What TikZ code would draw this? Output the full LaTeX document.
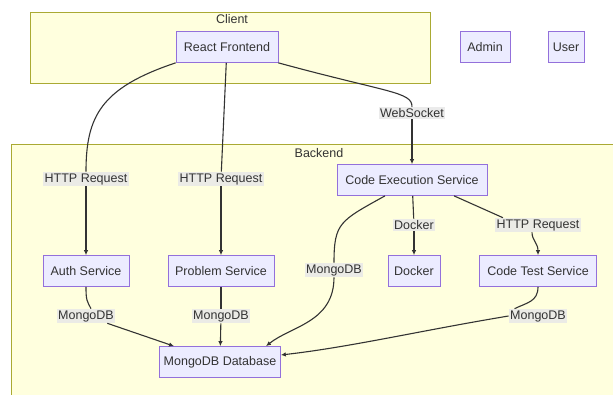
\documentclass[tikz,border=0pt]{standalone}
\usepackage{fontspec}
\setmainfont{Liberation Sans}
\usetikzlibrary{arrows.meta}
\definecolor{MClus}{HTML}{FFFFDE}
\definecolor{MClusLine}{HTML}{AAAA33}
\definecolor{MNode}{HTML}{ECECFF}
\definecolor{MNodeLine}{HTML}{9370DB}
\definecolor{MLabel}{HTML}{E8E8E8}
\definecolor{MInk}{HTML}{333333}
\newcommand{\mmdfont}{\fontsize{12.5}{14}\selectfont}

\begin{document}
\begin{tikzpicture}[x=1pt,y=-1pt,
  grp/.style={draw=MClusLine,fill=MClus,line width=0.7pt,anchor=north west,inner sep=0pt},
  n/.style={draw=MNodeLine,fill=MNode,line width=0.7pt,minimum height=31pt,inner sep=0pt,text=MInk,font=\mmdfont},
  l/.style={fill=MLabel,fill opacity=0.85,text opacity=1,inner xsep=1.5pt,inner ysep=1.5pt,text=MInk,font=\mmdfont},
  t/.style={text=MInk,font=\mmdfont},
  e/.style={draw=MInk,line width=1.1pt},
  a/.style={e,-{Latex[length=5pt,width=4.5pt]}}]
\clip (0,0) rectangle (613,394);
\fill[white] (0,0) rectangle (613,394);
\node[grp,minimum width=400pt,minimum height=71pt] (client) at (30,12) {};
\node[grp,minimum width=610pt,minimum height=260pt] (backend) at (11,144) {};
\node[t] (clientT) at (232,19) {Client};
\node[t] (backendT) at (319,153) {Backend};
\node[n,minimum width=102pt] (fe) at (227,47) {React Frontend};
\node[n,minimum width=50pt] (admin) at (485,47) {Admin};
\node[n,minimum width=36pt] (user) at (566,47) {User};
\node[n,minimum width=150pt] (exec) at (412,180) {Code Execution Service};
\node[n,minimum width=86pt] (auth) at (86,271) {Auth Service};
\node[n,minimum width=106pt] (prob) at (221,271) {Problem Service};
\node[n,minimum width=52pt] (dock) at (414,271) {Docker};
\node[n,minimum width=117pt] (test) at (538,271) {Code Test Service};
\node[n,minimum width=121pt] (db) at (220,362) {MongoDB Database};
\node[l] (lws) at (412,113) {WebSocket};
\node[l] (lh1) at (86,179) {HTTP Request};
\node[l] (lh2) at (221,179) {HTTP Request};
\node[l] (ldk) at (414,225) {Docker};
\node[l] (lh3) at (538,225) {HTTP Request};
\node[l] (lm0) at (334,270) {MongoDB};
\node[l] (lm1) at (86,316) {MongoDB};
\node[l] (lm2) at (221,316) {MongoDB};
\node[l] (lm3) at (538,316) {MongoDB};
\draw[e] (fe.south west) .. controls +(-75,25) and +(0,-55) .. (lh1.north);
\draw[e] (fe) -- (lh2);
\draw[e] (fe.south east) .. controls +(110,30) and +(0,-15) .. (lws.north);
\draw[a] (lh1) -- (auth); \draw[a] (lh2) -- (prob); \draw[a] (lws) -- (exec);
\draw[e] ([xshift=-27pt]exec.south) .. controls +(-45,25) and +(0,-40) .. (lm0.north);
\draw[a] (lm0.south) .. controls +(0,45) and +(25,-20) .. ([xshift=46pt]db.north);
\draw[e] (exec) -- (ldk); \draw[a] (ldk) -- (dock);
\draw[e] ([xshift=42pt]exec.south) -- ([xshift=8pt]lh3.north west);
\draw[a] ([xshift=-6pt]lh3.south) .. controls +(0,8) and +(0,-12) .. (test.north);
\draw[e] (auth.south) .. controls +(0,14) and +(-4,-8) .. ([xshift=5pt]lm1.north);
\draw[a] (lm1) -- ([xshift=-46pt]db.north);
\draw[e] (prob) -- (lm2); \draw[a] (lm2) -- (db);
\draw[e] (test.south) .. controls +(0,15) and +(12,-6) .. ([xshift=6pt]lm3.north west);
\draw[a] (lm3.west) .. controls +(-90,15) and +(70,-8) .. ([yshift=7pt]db.east);
\end{tikzpicture}
\end{document}
